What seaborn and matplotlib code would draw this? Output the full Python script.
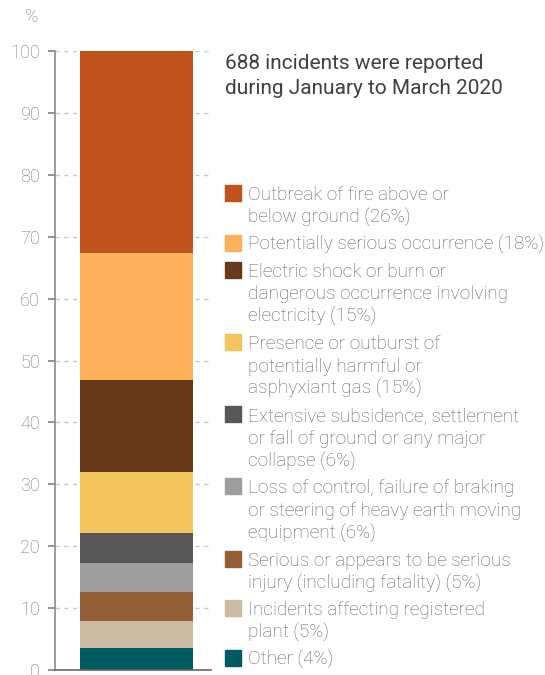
import matplotlib
matplotlib.use("Agg")
import matplotlib.pyplot as plt
import matplotlib.patches as mpatches
import seaborn as sns
import numpy as np

# data, stacked from bottom to top
categories = [
    "Other (4%)",
    "Incidents affecting registered\nplant (5%)",
    "Serious or appears to be serious\ninjury (including fatality) (5%)",
    "Loss of control, failure of braking\nor steering of heavy earth moving\nequipment (6%)",
    "Extensive subsidence, settlement\nor fall of ground or any major\ncollapse (6%)",
    "Presence or outburst of\npotentially harmful or\nasphyxiant gas (15%)",
    "Electric shock or burn or\ndangerous occurrence involving\nelectricity (15%)",
    "Potentially serious occurrence (18%)",
    "Outbreak of fire above or\nbelow ground (26%)",
]
shares = [3.55, 4.35, 4.7, 4.7, 4.8, 9.9, 14.8, 20.6, 32.6]
colours = ["#005C62", "#CBBBA1", "#925F36", "#9E9E9E", "#575757",
           "#F3C55D", "#663918", "#FDB05A", "#C0531B"]
title_lines = ["688 incidents were reported", "during January to March 2020"]
yticks = list(range(0, 101, 10))

sns.set_style("white")
plt.rcParams["font.family"] = ["Roboto", "DejaVu Sans"]
plt.rcParams["lines.scale_dashes"] = False

W, H = 545, 675
fig = plt.figure(figsize=(W / 100, H / 100), dpi=100)

# axes: spine at x=55px, right edge 213px, y=0 at 670px, y=100 at 51px
ax = fig.add_axes([55 / W, (H - 670) / H, 158 / W, 619 / H])

cum = np.cumsum(shares)
# overlapping cumulative bars, tallest first
for c, col in reversed(list(zip(cum, colours))):
    sns.barplot(x=["all"], y=[c], color=col, width=0.715, saturation=1,
                linewidth=0, ax=ax)

ax.set_xlim(-0.516, 0.484)
ax.set_ylim(0, 100)
ax.set_xticks([])
ax.set_xlabel("")
ax.set_ylabel("")
ax.set_yticks(yticks)
ax.tick_params(axis="y", left=True, length=5, width=1.1, color="#777777",
               labelsize=13, labelcolor="#767676", pad=6)
for lab in ax.get_yticklabels():
    lab.set_fontweight("light")
ax.set_axisbelow(True)
ax.yaxis.grid(True, color="#c8c8c8", linewidth=1.0, linestyle=(0, (3, 3.3)))
ax.xaxis.grid(False)
for s in ["top", "right"]:
    ax.spines[s].set_visible(False)
ax.spines["left"].set_color("#8a8a8a")
ax.spines["left"].set_linewidth(1.2)
ax.spines["bottom"].set_color("#666666")
ax.spines["bottom"].set_linewidth(1.2)
ax.spines["bottom"].set_bounds(-0.516, 0.47)

fig.text(32 / W, 1 - 17 / H, "%", ha="center", va="center", fontsize=13,
         color="#767676", fontweight="light")

# title
for i, line in enumerate(title_lines):
    fig.text(225 / W, 1 - (69 + 25 * i) / H, line, ha="left", va="baseline",
             fontsize=15, color="#404040")

# legend, top entry first
pitch = 22.6
gap = 4.45
y = 193.0
for lab, col in zip(reversed(categories), reversed(colours)):
    fig.patches.append(mpatches.Rectangle((225 / W, 1 - (y + 8) / H), 16 / W, 16 / H,
                                          transform=fig.transFigure, color=col))
    lines = lab.split("\n")
    for j, line in enumerate(lines):
        yc = y + pitch * j
        fig.text(248 / W, 1 - (yc + 7) / H, line, ha="left", va="baseline",
                 fontsize=13.7, color="#626262", fontweight="light")
    y += pitch * len(lines) + gap

fig.savefig("out.png", dpi=100)
